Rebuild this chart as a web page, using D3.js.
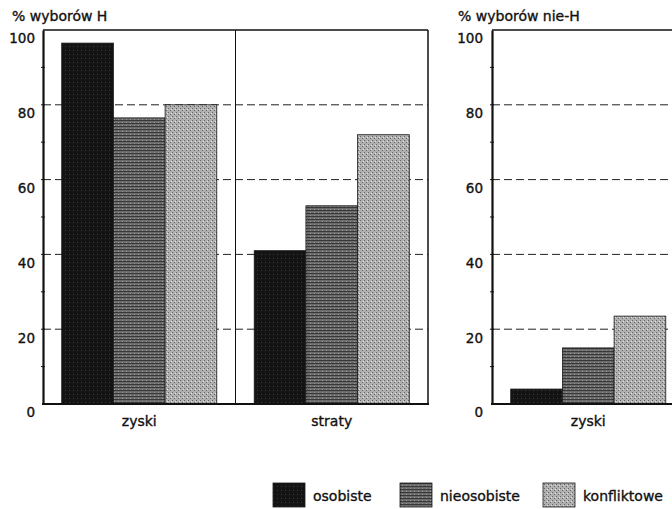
<!DOCTYPE html>
<html>
<head>
<meta charset="utf-8">
<script src="https://cdnjs.cloudflare.com/ajax/libs/d3/7.8.5/d3.min.js"></script>
<style>
  body { margin: 0; background: #fff; }
  svg { display: block; font-family: "DejaVu Sans", sans-serif; }
  text { stroke: #111; stroke-width: 0.35px; }
</style>
</head>
<body>
<svg id="chart" width="672" height="509"></svg>
<script>
// ---- data ----
const categories = ["zyski", "straty"];
const series = ["osobiste", "nieosobiste", "konfliktowe"];
const leftTitle = "% wyborów H";
const rightTitle = "% wyborów nie-H";
const leftValues = {            // % wyborów H
  zyski:  [96.5, 76.5, 80],
  straty: [41, 53, 72]
};
const rightValues = {           // % wyborów nie-H (only "zyski" visible)
  zyski:  [4, 15, 23.5]
};
const yTicks = [0, 20, 40, 60, 80, 100];
const gridTicks = [20, 40, 60, 80];
const minorTicks = [10, 30, 50, 70, 90];

// ---- drawing ----
const svg = d3.select("#chart");
const defs = svg.append("defs");

// textures for the greys
const p1 = defs.append("pattern").attr("id", "pat0").attr("patternUnits", "userSpaceOnUse")
  .attr("width", 4).attr("height", 4);
p1.append("rect").attr("width", 4).attr("height", 4).attr("fill", "#141414");
p1.append("rect").attr("x", 1).attr("y", 2).attr("width", 1).attr("height", 1).attr("fill", "#3a3a3a");

const p2 = defs.append("pattern").attr("id", "pat1").attr("patternUnits", "userSpaceOnUse")
  .attr("width", 4).attr("height", 3);
p2.append("rect").attr("width", 4).attr("height", 3).attr("fill", "#6c6c6c");
p2.append("rect").attr("y", 0).attr("width", 4).attr("height", 1).attr("fill", "#383838");
p2.append("rect").attr("x", 2).attr("y", 2).attr("width", 1).attr("height", 1).attr("fill", "#9a9a9a");

const p3 = defs.append("pattern").attr("id", "pat2").attr("patternUnits", "userSpaceOnUse")
  .attr("width", 4).attr("height", 4);
p3.append("rect").attr("width", 4).attr("height", 4).attr("fill", "#b0b0b0");
p3.append("rect").attr("x", 0).attr("y", 0).attr("width", 1).attr("height", 1).attr("fill", "#666");
p3.append("rect").attr("x", 2).attr("y", 2).attr("width", 1).attr("height", 1).attr("fill", "#666");
p3.append("rect").attr("x", 3).attr("y", 1).attr("width", 1).attr("height", 1).attr("fill", "#e0e0e0");

const fills = series.map((s, i) => `url(#pat${i})`);

const y = d3.scaleLinear().domain([0, 100]).range([404, 30]);

function panel(x0, x1, title, values, labelX, titleX) {
  const g = svg.append("g");
  const x = d3.scaleBand().domain(categories).range([x0, x1]).paddingInner(0).paddingOuter(0);
  const xi = d3.scaleBand().domain(series).range([0, x.bandwidth()]).paddingInner(0).paddingOuter(0.362);

  // grid lines
  g.selectAll("line.grid").data(gridTicks).join("line")
    .attr("x1", x0).attr("x2", x1)
    .attr("y1", d => y(d)).attr("y2", d => y(d))
    .attr("stroke", "#222").attr("stroke-width", 1)
    .attr("stroke-dasharray", "8,4");

  // bars
  categories.forEach(c => {
    if (!values[c]) return;
    g.selectAll(null).data(values[c]).join("rect")
      .attr("x", (d, i) => x(c) + xi(series[i]))
      .attr("width", xi.bandwidth())
      .attr("y", d => y(d))
      .attr("height", d => y(0) - y(d))
      .attr("fill", (d, i) => fills[i])
      .attr("stroke", "#1a1a1a").attr("stroke-width", 0.8);
  });

  // frame
  g.append("line").attr("x1", x0).attr("x2", x1).attr("y1", y(100)).attr("y2", y(100))
    .attr("stroke", "#111").attr("stroke-width", 1.5);
  g.append("line").attr("x1", x1).attr("x2", x1).attr("y1", y(100)).attr("y2", y(0))
    .attr("stroke", "#111").attr("stroke-width", 1.5);
  g.append("line").attr("x1", x(categories[1])).attr("x2", x(categories[1]))
    .attr("y1", y(100)).attr("y2", y(0))
    .attr("stroke", "#111").attr("stroke-width", 1);

  // x axis (label only the categories shown with data)
  const xa = g.append("g").attr("transform", `translate(0,${y(0)})`)
    .call(d3.axisBottom(x).tickValues(categories.filter(c => values[c])).tickSize(0).tickPadding(12));
  xa.select(".domain").attr("stroke", "#111").attr("stroke-width", 2)
    .attr("d", `M${x0 - 1},0H${x1 + 1}`);
  xa.selectAll("text").attr("font-size", 14).attr("fill", "#111")
    .attr("font-family", "DejaVu Sans, sans-serif");

  // y axis
  const ya = g.append("g").attr("transform", `translate(${x0},0)`)
    .call(d3.axisLeft(y).tickValues(yTicks).tickSize(0).tickPadding(labelX));
  ya.select(".domain").attr("stroke", "#111").attr("stroke-width", 2.2);
  ya.selectAll("text").attr("font-size", 13.5).attr("fill", "#111").attr("dy", "0.95em")
    .attr("font-family", "DejaVu Sans, sans-serif");
  g.selectAll("line.minor").data(minorTicks.concat(gridTicks)).join("line")
    .attr("x1", x0 - 2).attr("x2", x0 + 2)
    .attr("y1", d => y(d)).attr("y2", d => y(d))
    .attr("stroke", "#111").attr("stroke-width", 1);

  // title
  svg.append("text").attr("x", titleX).attr("y", 21)
    .attr("font-size", 14).attr("fill", "#111").text(title);
}

panel(43, 428, leftTitle, leftValues, 8, 12);
panel(492, 877, rightTitle, rightValues, 9, 458);

// legend
const legendX = [273, 400, 543];
const leg = svg.append("g");
series.forEach((s, i) => {
  leg.append("rect").attr("x", legendX[i]).attr("y", 483).attr("width", 32).attr("height", 24)
    .attr("fill", fills[i]).attr("stroke", "#1a1a1a").attr("stroke-width", 0.8);
  leg.append("text").attr("x", legendX[i] + 40).attr("y", 501)
    .attr("font-size", 14).attr("fill", "#111").text(s);
});
</script>
</body>
</html>
